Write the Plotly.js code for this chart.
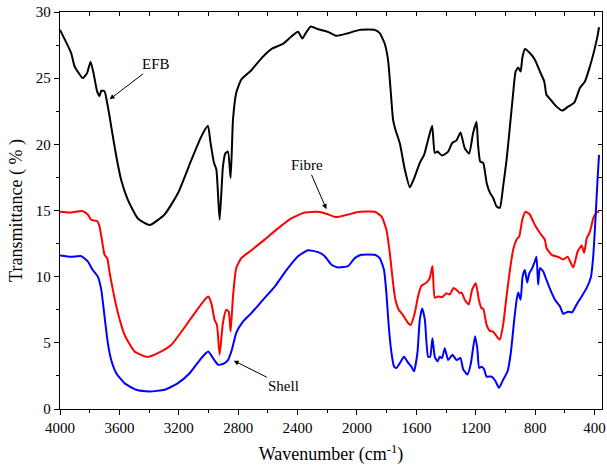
<!DOCTYPE html>
<html>
<head>
<meta charset="utf-8">
<script src="https://cdn.plot.ly/plotly-3.0.1.min.js"></script>
<style>html,body{margin:0;padding:0;background:#fff;}#chart{width:607px;height:468px;}</style>
</head>
<body>
<div id="chart"></div>
<script>
// [wavenumber (cm-1), transmittance (%)]
const efbPoints = [
[4000,28.65],[3925,26.9],[3902,25.9],[3846,25.0],[3817,25.4],[3794,26.25],[3772,25.25],[3750,24.0],
[3734,23.65],[3722,24.05],[3700,24.0],[3682,23.1],[3666,22.1],[3644,20.6],[3621,19.1],[3588,17.3],
[3543,15.8],[3476,14.4],[3397,13.9],[3296,14.7],[3206,16.3],[3116,18.8],[3048,20.6],[3004,21.4],
[2986,20.1],[2963,18.6],[2947,18.1],[2925,14.3],[2903,18.3],[2887,19.3],[2869,19.45],[2851,17.45],
[2835,21.85],[2813,23.9],[2779,24.9],[2711,25.6],[2644,26.5],[2577,27.2],[2498,27.6],[2442,28.15],
[2397,28.5],[2368,28.0],[2345,28.4],[2312,28.9],[2262,28.7],[2195,28.5],[2138,28.2],[2060,28.4],
[1981,28.65],[1880,28.65],[1847,28.4],[1813,27.6],[1791,26.4],[1772,23.9],[1757,21.85],[1741,21.1],
[1712,20.1],[1678,18.1],[1644,16.75],[1611,17.55],[1577,18.6],[1548,19.2],[1521,20.35],[1494,21.4],
[1476,19.35],[1458,19.45],[1427,19.15],[1386,19.45],[1359,20.1],[1330,20.3],[1303,20.9],[1274,19.7],
[1245,19.3],[1218,20.85],[1195,21.7],[1185,20.0],[1170,18.7],[1150,18.6],[1127,17.1],[1105,16.35],
[1083,15.95],[1060,15.3],[1038,15.2],[1016,16.8],[993,18.8],[970,21.35],[948,23.9],[932,25.5],
[914,25.8],[898,25.5],[887,26.5],[869,27.2],[836,26.9],[802,26.4],[768,25.5],[739,24.75],
[724,23.75],[694,23.35],[656,22.85],[618,22.55],[578,22.85],[537,23.15],[499,24.25],[465,24.75],
[431,25.9],[402,27.1],[379,28.25],[370,28.85]
];
const fibrePoints = [
[4000,14.9],[3936,14.85],[3846,14.95],[3813,14.7],[3790,14.3],[3750,14.2],[3734,13.8],[3718,12.8],
[3700,11.65],[3682,11.4],[3666,10.3],[3644,9.0],[3610,7.25],[3565,5.6],[3498,4.35],[3408,3.93],
[3318,4.35],[3250,4.85],[3172,6.0],[3093,7.25],[3026,8.25],[3002,8.5],[2981,8.0],[2959,6.75],
[2943,6.35],[2925,4.1],[2903,6.5],[2880,7.5],[2864,7.35],[2851,5.85],[2835,8.5],[2813,10.65],
[2779,11.4],[2711,12.0],[2622,12.8],[2532,13.65],[2442,14.4],[2352,14.85],[2262,14.9],[2206,14.75],
[2138,14.5],[2060,14.7],[1981,14.9],[1880,14.9],[1835,14.55],[1802,13.55],[1779,11.8],[1757,9.5],
[1741,8.25],[1719,7.5],[1690,7.1],[1656,6.5],[1638,6.35],[1611,7.25],[1589,8.5],[1566,9.3],
[1532,9.55],[1510,9.9],[1492,10.8],[1476,8.4],[1454,8.5],[1427,8.45],[1397,8.75],[1375,8.65],
[1350,9.15],[1330,9.0],[1307,8.75],[1296,8.8],[1274,8.25],[1247,7.9],[1225,9.0],[1200,9.5],
[1180,8.3],[1161,7.6],[1150,7.6],[1127,6.35],[1105,5.9],[1083,5.85],[1060,5.5],[1038,5.25],
[1016,6.35],[993,8.5],[970,10.5],[948,12.05],[925,12.8],[907,13.05],[887,14.3],[865,14.9],
[836,14.7],[802,13.9],[768,13.3],[735,12.8],[723,12.15],[689,11.65],[645,11.5],[611,11.3],
[582,11.5],[544,10.7],[514,11.9],[487,12.35],[470,11.8],[453,12.9],[431,13.4],[409,14.4],
[386,14.85],[370,14.9]
];
const shellPoints = [
[4000,11.6],[3925,11.5],[3857,11.55],[3813,11.15],[3779,10.5],[3745,10.0],[3722,9.0],[3700,7.0],
[3678,5.0],[3655,3.7],[3621,2.7],[3565,1.95],[3486,1.45],[3397,1.33],[3296,1.45],[3206,1.95],
[3127,2.7],[3048,3.85],[3002,4.35],[2970,3.85],[2936,3.35],[2903,3.4],[2869,3.7],[2842,4.5],
[2813,5.75],[2768,6.6],[2711,7.25],[2633,8.25],[2554,9.25],[2475,10.5],[2397,11.55],[2330,12.0],
[2262,11.85],[2217,11.55],[2172,10.9],[2128,10.7],[2060,10.8],[2015,11.4],[1970,11.65],[1880,11.65],
[1847,11.4],[1818,10.5],[1802,8.75],[1786,6.25],[1768,4.25],[1750,3.2],[1734,3.1],[1712,3.45],
[1683,3.95],[1656,3.5],[1634,3.2],[1616,2.85],[1593,4.25],[1577,6.75],[1561,7.6],[1543,6.75],
[1521,3.95],[1507,3.95],[1492,5.35],[1476,3.95],[1458,3.6],[1442,3.95],[1427,3.85],[1409,4.6],
[1386,3.7],[1357,4.1],[1330,3.7],[1303,3.85],[1285,3.0],[1256,2.6],[1233,3.45],[1205,5.5],
[1190,4.6],[1177,3.1],[1161,3.2],[1144,3.0],[1127,2.45],[1094,2.45],[1067,2.1],[1044,1.6],
[1016,2.2],[986,2.85],[964,4.25],[941,6.75],[925,8.25],[914,8.8],[898,8.25],[885,10.0],
[869,10.5],[854,9.55],[840,10.25],[820,10.65],[802,11.15],[791,11.5],[780,9.4],[768,10.65],
[746,10.4],[724,9.75],[694,8.9],[667,8.25],[633,7.75],[611,7.2],[578,7.35],[551,7.3],
[521,7.9],[487,8.5],[453,9.15],[424,10.0],[409,11.55],[393,14.55],[379,17.55],[370,19.2]
];
const seriesNames = ["EFB", "Fibre", "Shell"];
const seriesColors = ["#000000", "#ff0000", "#0000ff"];
const xTickVals = [4000, 3600, 3200, 2800, 2400, 2000, 1600, 1200, 800, 400];
const yTickVals = [0, 5, 10, 15, 20, 25, 30];

const allPoints = [efbPoints, fibrePoints, shellPoints];
const traces = allPoints.map((pts, i) => ({
  x: pts.map(p => p[0]),
  y: pts.map(p => p[1]),
  type: 'scatter',
  mode: 'lines',
  name: seriesNames[i],
  line: {color: seriesColors[i], width: 2, shape: 'spline', smoothing: 0.5},
  hoverinfo: 'skip'
}));
// helper trace (no points) so the mirrored top/right axes are drawn
traces.push({x: [], y: [], xaxis: 'x2', yaxis: 'y2', type: 'scatter', mode: 'lines', showlegend: false});

const serif = 'Liberation Serif';
const layout = {
  width: 607, height: 468,
  margin: {l: 60, r: 5, t: 12, b: 59},
  paper_bgcolor: '#fff', plot_bgcolor: '#fff',
  showlegend: false,
  font: {family: serif, size: 15, color: '#000'},
  xaxis: {
    range: [4000, 350], tickvals: xTickVals, ticktext: xTickVals.map(String),
    ticks: 'outside', ticklen: 5, tickwidth: 1, tickcolor: '#000',
    minor: {dtick: 200, tick0: 0, ticks: 'outside', ticklen: 3, tickcolor: '#000', showgrid: false},
    showline: true, linecolor: '#000', linewidth: 1.2, showgrid: false, zeroline: false,
    tickfont: {family: serif, size: 15},
    title: {text: 'Wavenumber (cm<sup>-1</sup>)', font: {family: serif, size: 18}, standoff: 12}
  },
  yaxis: {
    range: [0, 30], tickvals: yTickVals,
    ticks: 'outside', ticklen: 5, tickwidth: 1, tickcolor: '#000',
    minor: {dtick: 2.5, ticks: 'outside', ticklen: 3, tickcolor: '#000', showgrid: false},
    showline: true, linecolor: '#000', linewidth: 1.2, showgrid: false, zeroline: false,
    tickfont: {family: serif, size: 15},
    title: {text: 'Transmittance ( % )', font: {family: serif, size: 18}, standoff: 8}
  },
  xaxis2: {
    overlaying: 'x', side: 'top', anchor: 'y', range: [4000, 350],
    dtick: 200, tick0: 0, ticks: 'inside', ticklen: 4, tickcolor: '#000',
    showticklabels: false, showline: true, linecolor: '#000', linewidth: 1.2,
    showgrid: false, zeroline: false
  },
  yaxis2: {
    overlaying: 'y', side: 'right', anchor: 'x', range: [0, 30],
    dtick: 2.5, ticks: 'inside', ticklen: 4, tickcolor: '#000',
    showticklabels: false, showline: true, linecolor: '#000', linewidth: 1.2,
    showgrid: false, zeroline: false
  },
  annotations: [
    {x: 3666, y: 23.4, xref: 'x', yref: 'y', text: 'EFB', showarrow: true,
     ax: 46, ay: -35, arrowhead: 2, arrowsize: 1, arrowwidth: 1, arrowcolor: '#000',
     font: {family: serif, size: 15, color: '#000'}},
    {x: 2206, y: 15.1, xref: 'x', yref: 'y', text: 'Fibre', showarrow: true,
     ax: -19, ay: -44, arrowhead: 2, arrowsize: 1, arrowwidth: 1, arrowcolor: '#000',
     font: {family: serif, size: 15, color: '#000'}},
    {x: 2830, y: 3.65, xref: 'x', yref: 'y', text: 'Shell', showarrow: true,
     ax: 50, ay: 25, arrowhead: 2, arrowsize: 1, arrowwidth: 1, arrowcolor: '#000',
     font: {family: serif, size: 15, color: '#000'}}
  ]
};
Plotly.newPlot('chart', traces, layout, {displayModeBar: false, staticPlot: true});
</script>
</body>
</html>
